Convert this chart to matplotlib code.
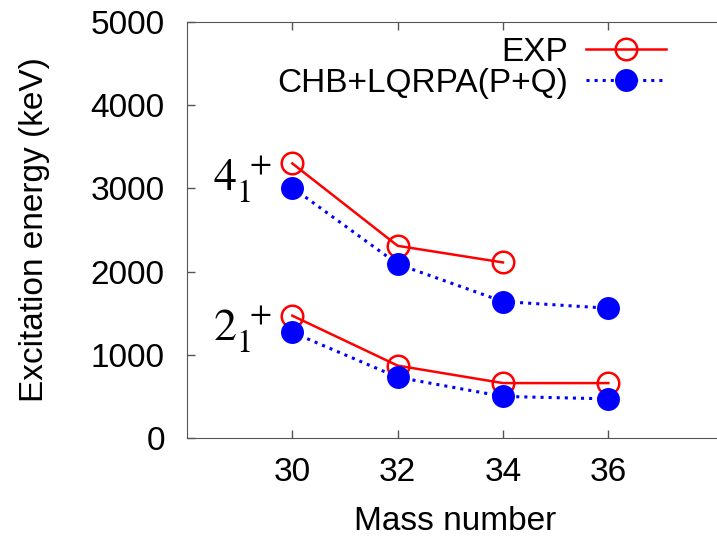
import matplotlib
matplotlib.use('Agg')
import matplotlib.pyplot as plt

plt.rcParams['font.family'] = 'Liberation Sans'
plt.rcParams['mathtext.fontset'] = 'stix'

# Data
mass = [30, 32, 34, 36]
exp_4 = [3300, 2310, 2110]
chb_4 = [3010, 2090, 1640, 1560]
exp_2 = [1470, 870, 660, 660]
chb_2 = [1270, 730, 500, 470]

red = '#ff0000'
blue = '#0000ff'

fig = plt.figure(figsize=(7.17, 5.38), dpi=100)
ax = fig.add_axes([187 / 717, (538 - 438) / 538, (717 - 187) / 717 + 0.01, 416 / 538])

exp_kw = dict(color=red, linestyle='-', linewidth=1.8, marker='o', markersize=15.5,
              markerfacecolor='none', markeredgecolor=red, markeredgewidth=1.8)
chb_kw = dict(color=blue, linestyle=':', linewidth=2.2, marker='o', markersize=15.5,
              markerfacecolor=blue, markeredgecolor=blue)

ax.plot(mass[:3], exp_4, label='EXP', **exp_kw)
ax.plot(mass, chb_4, label='CHB+LQRPA(P+Q)', **chb_kw)
ax.plot(mass, exp_2, **exp_kw)
ax.plot(mass, chb_2, **chb_kw)

ax.text(28.5, 3100, r'$4_1^{\ +}$', fontsize=33, ha='left', va='center')
ax.text(28.5, 1300, r'$2_1^{\ +}$', fontsize=33, ha='left', va='center')

ax.set_xlim(28, 38.2)
ax.set_ylim(0, 5000)
ax.set_xticks(mass)
ax.set_yticks(range(0, 5001, 1000))
ax.tick_params(direction='in', top=True, right=False, length=6, width=1,
               color='#555555', labelsize=24)
ax.tick_params(axis='y', pad=16)
ax.tick_params(axis='x', pad=14)
for s in ['left', 'bottom', 'top']:
    ax.spines[s].set_color('#555555')
ax.spines['right'].set_visible(False)

ax.set_xlabel('Mass number', fontsize=24, labelpad=13)
ax.set_ylabel('Excitation energy (keV)', fontsize=24, labelpad=29)

leg = ax.legend(loc='upper right', bbox_to_anchor=(0.92, 1.0), frameon=False,
                fontsize=24, markerfirst=False, handlelength=2.4,
                handletextpad=0.55, labelspacing=0.0, borderaxespad=0.05)

fig.savefig('out.png', dpi=100, facecolor='white')
